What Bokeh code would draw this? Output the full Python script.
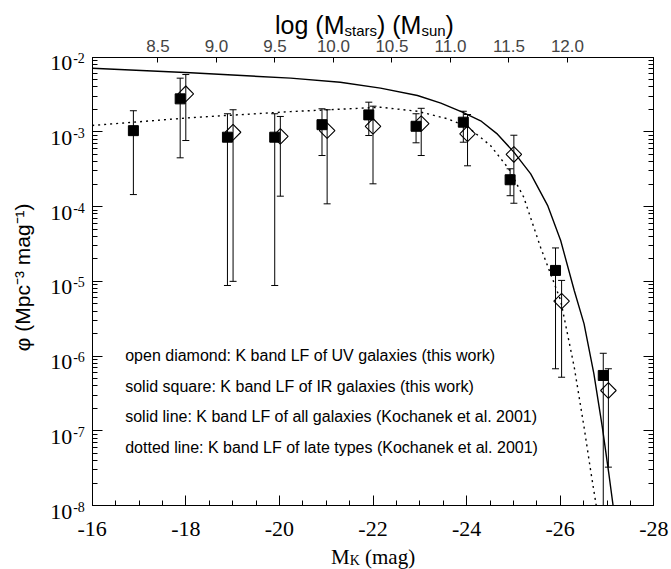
import math
from bokeh.plotting import figure
from bokeh.models import (Range1d, LinearAxis, LogAxis, LogTicker, SingleIntervalTicker,
                          FixedTicker, PrintfTickFormatter, CustomJSTickFormatter, Label)
from bokeh.embed import file_html
from bokeh.resources import INLINE

# ---------------- data ----------------
# solid squares: K band LF of IR galaxies
sq_mag = [-16.88, -17.88, -18.89, -19.90, -20.91, -21.91, -22.92, -23.93, -24.93, -25.90, -26.92]
sq_phi = [1.04e-3, 2.77e-3, 8.5e-4, 8.5e-4, 1.25e-3, 1.69e-3, 1.19e-3, 1.35e-3, 2.29e-4, 1.40e-5, 5.5e-7]
sq_hi = [1.92e-3, 5.24e-3, 1.75e-3, 1.75e-3, 2.04e-3, 2.50e-3, 1.75e-3, 1.89e-3, 3.21e-4, 2.80e-5, 1.09e-6]
sq_lo = [1.45e-4, 4.5e-4, 8.8e-6, 8.8e-6, 4.83e-4, 8.95e-4, 7.15e-4, 7.28e-4, 1.40e-4, 6.76e-7, 1.0e-8]

# open diamonds: K band LF of UV galaxies
di_mag = [-18.00, -19.01, -20.02, -21.02, -22.00, -23.03, -24.02, -25.01, -26.03, -27.03]
di_phi = [3.24e-3, 9.9e-4, 8.7e-4, 1.04e-3, 1.19e-3, 1.29e-3, 9.44e-4, 4.99e-4, 5.43e-6, 3.46e-7]
di_hi = [5.86e-3, 1.98e-3, 1.61e-3, 1.98e-3, 2.21e-3, 2.07e-3, 1.71e-3, 9.03e-4, 1.03e-5, 6.76e-7]
di_lo = [7.67e-4, 1.0e-5, 1.38e-4, 1.09e-4, 2.02e-4, 4.83e-4, 3.52e-4, 1.11e-4, 5.21e-7, 3.26e-8]

# solid line: all galaxies (Kochanek et al. 2001)
all_mag = [-16.0, -18.1, -20.24, -21.3, -22.16, -22.95, -23.45, -23.91, -24.3, -24.66, -25.01, -25.37,
           -25.73, -26.01, -26.30, -26.51, -26.72, -26.90, -27.04, -27.13]
all_phi = [7.13e-3, 6.18e-3, 5.24e-3, 4.62e-3, 3.85e-3, 3.07e-3, 2.43e-3, 1.84e-3, 1.41e-3, 9.33e-4,
           5.36e-4, 2.75e-4, 1.04e-4, 3.52e-5, 7.55e-6, 2.70e-6, 5.79e-7, 1.12e-7, 2.65e-8, 1.0e-8]

# dotted line: late types (Kochanek et al. 2001)
late_mag = [-16.0, -18.1, -20.24, -22.16, -22.95, -23.59, -24.01, -24.51, -24.9, -25.22, -25.58,
            -26.01, -26.30, -26.51, -26.65, -26.77]
late_phi = [1.22e-3, 1.55e-3, 1.87e-3, 2.14e-3, 1.89e-3, 1.50e-3, 1.18e-3, 6.58e-4, 3.21e-4, 1.34e-4,
            2.86e-5, 5.55e-6, 7.10e-7, 1.12e-7, 2.94e-8, 1.0e-8]

# axes
x_lo, x_hi = -16, -28
y_exponents = [-8, -7, -6, -5, -4, -3, -2]
mass_at_x_lo = 7.938      # log(M_stars) at M_K = -16
mass_per_mag = 0.4        # dex per magnitude
mass_ticks = [8.5, 9.0, 9.5, 10.0, 10.5, 11.0, 11.5, 12.0]

legend_lines = [
    "open diamond: K band LF of UV galaxies (this work)",
    "solid square: K band LF of IR galaxies (this work)",
    "solid line: K band LF of all galaxies (Kochanek et al. 2001)",
    "dotted line: K band LF of late types (Kochanek et al. 2001)",
]

SERIF = "Liberation Serif"
SANS = "Liberation Sans"

# ---------------- layout (pixels) ----------------
W, H = 671, 569
BOX_L, BOX_R, BOX_T, BOX_B = 91.7, 653.3, 56.7, 505.0

x_per_px = (x_hi - x_lo) / (BOX_R - BOX_L)
x_start = x_lo - BOX_L * x_per_px
x_end = x_hi + (W - BOX_R) * x_per_px
y_lo_e, y_hi_e = y_exponents[0], y_exponents[-1]
dec_per_px = (y_hi_e - y_lo_e) / (BOX_B - BOX_T)
y_start = 10.0 ** (y_lo_e - (H - BOX_B) * dec_per_px)
y_end = 10.0 ** (y_hi_e + BOX_T * dec_per_px)


def mass_of(m):
    return mass_at_x_lo + mass_per_mag * (x_lo - m)


p = figure(width=W, height=H, x_range=Range1d(x_start, x_end), y_range=Range1d(y_start, y_end),
           y_axis_type="log", output_backend="svg", toolbar_location=None, title=None,
           min_border=0)
p.grid.visible = False
p.outline_line_color = None
p.background_fill_color = "white"
p.border_fill_color = "white"

y_bot = 10.0 ** y_lo_e
y_top = 10.0 ** y_hi_e

# bottom axis
xa = p.xaxis[0]
xa.fixed_location = y_bot
xa.bounds = (x_hi, x_lo)
xa.ticker = SingleIntervalTicker(interval=2, num_minor_ticks=4)
xa.formatter = PrintfTickFormatter(format="%d")
xa.major_tick_in = 10
xa.major_tick_out = 0
xa.minor_tick_in = 5
xa.minor_tick_out = 0
xa.major_label_text_font = SERIF
xa.major_label_text_font_size = "22px"
xa.major_label_text_color = "black"
xa.major_label_standoff = 16
xa.axis_line_color = "black"

# left axis
ya = p.yaxis[0]
ya.fixed_location = x_lo
ya.bounds = (y_bot, y_top)
ya.ticker = LogTicker(num_minor_ticks=10)
ya.formatter = CustomJSTickFormatter(code="return ''")
ya.major_label_text_font_size = "0px"
ya.major_tick_in = 10
ya.major_tick_out = 0
ya.minor_tick_in = 5
ya.minor_tick_out = 0
ya.major_label_standoff = 0

# right axis
ra = LogAxis(ticker=LogTicker(num_minor_ticks=10), formatter=CustomJSTickFormatter(code="return ''"),
             major_label_text_font_size="0px", major_tick_in=10, major_tick_out=0,
             minor_tick_in=5, minor_tick_out=0, major_label_standoff=0,
             fixed_location=x_hi, bounds=(y_bot, y_top))
p.add_layout(ra, "right")

# top axis (stellar mass)
p.extra_x_ranges = {"mass": Range1d(mass_of(x_start), mass_of(x_end))}
ta = LinearAxis(x_range_name="mass", ticker=FixedTicker(ticks=mass_ticks, minor_ticks=[]),
                formatter=PrintfTickFormatter(format="%.1f"),
                major_tick_in=5, major_tick_out=0, minor_tick_in=0, minor_tick_out=0,
                major_label_text_font=SANS, major_label_text_font_size="17px",
                major_label_standoff=5, fixed_location=y_top,
                bounds=(mass_of(x_lo), mass_of(x_hi)))
p.add_layout(ta, "above")

# curves
p.line(all_mag, all_phi, line_color="black", line_width=1.4)
p.line(late_mag, late_phi, line_color="black", line_width=1.4, line_dash="2 4")

# error bars
p.segment(x0=sq_mag, y0=sq_lo, x1=sq_mag, y1=sq_hi, line_color="black", line_width=1)
p.scatter(sq_mag, sq_hi, marker="dash", size=7, line_color="black", line_width=1)
p.scatter(sq_mag[:-1], sq_lo[:-1], marker="dash", size=7, line_color="black", line_width=1)
p.segment(x0=di_mag, y0=di_lo, x1=di_mag, y1=di_hi, line_color="black", line_width=1)
p.scatter(di_mag, di_hi, marker="dash", size=7, line_color="black", line_width=1)
p.scatter(di_mag, di_lo, marker="dash", size=7, line_color="black", line_width=1)

# markers
p.scatter(sq_mag, sq_phi, marker="square", size=10, fill_color="black", line_color="black")
p.scatter(di_mag, di_phi, marker="square", angle=math.pi / 4, size=11,
          fill_color=None, line_color="black", line_width=1.1)


def lab(text, x, y, xo, yo, size, font, align="left", baseline="alphabetic", angle=0.0):
    p.add_layout(Label(x=x, y=y, x_offset=xo, y_offset=yo, text=text, text_font=font,
                       text_font_size=f"{size}px", text_align=align, text_baseline=baseline,
                       angle=angle, text_color="black"))


# left tick labels 10^k
for e in y_exponents:
    lab("10", x_lo, 10.0 ** e, -20, -6, 22, SERIF, align="right", baseline="middle")
    lab(str(e), x_lo, 10.0 ** e, -19, -1, 14, SERIF, align="left", baseline="middle")

x_mid = (x_lo + x_hi) / 2
y_mid = 10.0 ** ((y_lo_e + y_hi_e) / 2)

# top title: log (M_stars) (M_sun)
lab("log (M", x_mid, y_top, -98.0, 32, 25, SANS)
lab("stars", x_mid, y_top, -28.5, 27, 15, SANS)
lab(") (M", x_mid, y_top, 4.0, 32, 25, SANS)
lab("sun", x_mid, y_top, 48.4, 27, 15, SANS)
lab(")", x_mid, y_top, 72.6, 32, 25, SANS)

# bottom title: M_K (mag)
lab("M", x_mid, y_bot, -42.0, -51, 21, SERIF)
lab("K", x_mid, y_bot, -23.3, -55, 14, SERIF)
lab("(mag)", x_mid, y_bot, -8.0, -51, 21, SERIF)

# y title
lab("\u03c6 (Mpc\u207b\u00b3 mag\u207b\u00b9)", x_lo, y_mid, -70, 4, 21, SANS,
    align="center", baseline="middle", angle=math.pi / 2)

# legend text
for i, t in enumerate(legend_lines):
    lab(t, x_lo, y_bot, 33, 150 - 30.5 * i, 16, SANS, baseline="middle")

open("out.html", "w").write(file_html(p, INLINE))
